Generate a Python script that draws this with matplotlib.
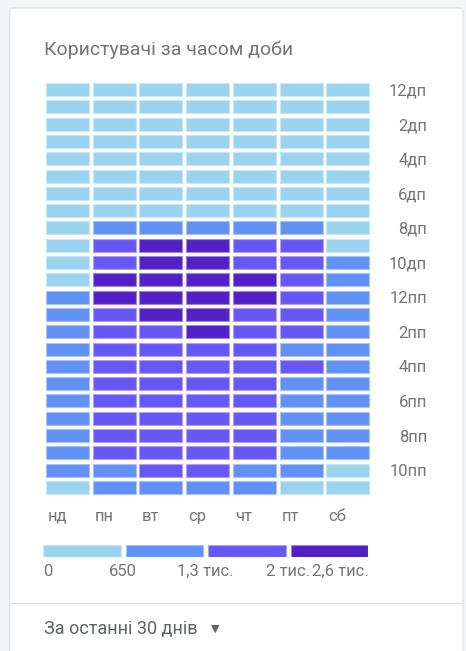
import matplotlib
matplotlib.use("Agg")
import matplotlib.pyplot as plt
from matplotlib.patches import Rectangle, FancyBboxPatch
from matplotlib.colors import ListedColormap, BoundaryNorm, to_rgb
import numpy as np

# ---------------- data ----------------
title = "Користувачі за часом доби"
days = ["нд", "пн", "вт", "ср", "чт", "пт", "сб"]
hour_labels = ["12дп", "2дп", "4дп", "6дп", "8дп", "10дп",
               "12пп", "2пп", "4пп", "6пп", "8пп", "10пп"]
bounds = [0, 650, 1300, 2000, 2600]
legend_labels = ["0", "650", "1,3 тис.", "2 тис.", "2,6 тис."]
level_colors = ["#9BD3EF", "#6291F5", "#6757F5", "#5021C4"]
footer = "За останні 30 днів"

# users per hour (rows 0..23), one list per day
sun = [120, 80, 60, 40, 30, 40, 90, 250, 480, 560, 610, 640, 700, 760, 780, 800, 820, 840, 860, 880, 840, 760, 680, 520]
mon = [150, 90, 60, 40, 40, 60, 150, 400, 900, 1750, 1950, 2150, 2100, 1900, 1800, 1700, 1650, 1600, 1550, 1500, 1450, 1400, 1200, 900]
tue = [200, 100, 70, 50, 40, 60, 160, 420, 950, 2150, 2300, 2400, 2350, 2200, 1950, 1800, 1700, 1650, 1600, 1550, 1500, 1450, 1350, 1000]
wed = [220, 110, 70, 50, 40, 60, 170, 430, 980, 2200, 2350, 2450, 2500, 2300, 2100, 1900, 1750, 1700, 1650, 1600, 1550, 1500, 1400, 1050]
thu = [210, 100, 70, 50, 40, 60, 160, 420, 940, 1900, 1950, 2100, 2050, 1950, 1850, 1700, 1650, 1600, 1550, 1500, 1450, 1400, 1250, 950]
fri = [200, 110, 70, 50, 40, 60, 150, 400, 900, 1700, 1750, 1800, 1750, 1650, 1500, 1250, 1350, 1250, 1200, 1150, 1100, 1000, 900, 600]
sat = [150, 100, 70, 50, 40, 50, 100, 250, 450, 600, 700, 800, 900, 950, 1000, 1050, 1050, 1000, 950, 900, 850, 800, 620, 500]
series = [sun, mon, tue, wed, thu, fri, sat]

# ---------------- figure ----------------
W, H = 466, 651
fig = plt.figure(figsize=(W / 100, H / 100), dpi=100)
fig.patch.set_facecolor("#F4F5F6")
plt.rcParams["font.family"] = ["Roboto", "DejaVu Sans"]

def fx(px):
    return px / W

def fy(py):
    return 1 - py / H

# card
card = FancyBboxPatch((fx(9.5), fy(660)), fx(463 - 9.5), (660 - 8) / H,
                      boxstyle="round,pad=0,rounding_size=0.006",
                      transform=fig.transFigure, facecolor="white",
                      edgecolor="#E3E4E6", linewidth=1.0, zorder=-10)
fig.patches.append(card)
fig.add_artist(plt.Line2D([fx(10), fx(462.5)], [fy(603), fy(603)],
                          transform=fig.transFigure, color="#E0E0E0", lw=1.0,
                          zorder=-5))

fig.text(fx(44), fy(50), title, fontsize=14, color="#757575",
         ha="left", va="center")

cmap = ListedColormap(level_colors)
norm = BoundaryNorm(bounds, cmap.N)

def lighten(c, a=0.45):
    r = np.array(to_rgb(c))
    return tuple(r + (1 - r) * a)

# heatmap axes
left, right = 46, 46 + 7 * 46.7
top, bottom = 83, 83 + 24 * 17.3
ax = fig.add_axes([fx(left), fy(bottom), fx(right - left), (bottom - top) / H])
ax.set_zorder(1)
ax.set_xlim(0, 7)
ax.set_ylim(24, 0)
cw, ch = 43 / 46.7, 13 / 17.3
for c, vals in enumerate(series):
    for r, v in enumerate(vals):
        col = cmap(norm(v))
        ax.add_patch(Rectangle((c, r), cw, ch, facecolor=col,
                               edgecolor=lighten(col), linewidth=0.8))
for s in ax.spines.values():
    s.set_visible(False)
ax.set_facecolor("none")
ax.set_xticks([c + 0.04 for c in range(7)])
ax.set_xticklabels(days, ha="left")
ax.yaxis.tick_right()
ax.set_yticks([2 * i + ch / 2 for i in range(12)])
ax.set_yticklabels(hour_labels, ha="right")
ax.tick_params(axis="both", length=0, labelsize=12, labelcolor="#757575")
ax.tick_params(axis="y", pad=(427 - right) * 0.72)
ax.tick_params(axis="x", pad=7.5)

# legend axes
lax = fig.add_axes([fx(43.3), fy(557.3), fx(368.3 - 43.3), 12.3 / H])
lax.set_zorder(1)
lax.set_xlim(0.03, 3.97)
lax.set_ylim(0, 1)
lax.bar([i + 0.5 for i in range(4)], [1] * 4, width=0.94, color=level_colors,
        edgecolor=[lighten(c) for c in level_colors], linewidth=0.8)
lax.axis("off")
for i, lab in enumerate(legend_labels):
    xpos = min(max(i, 0.03), 3.97)
    ha = "left" if i == 0 else ("right" if i == 4 else "center")
    lax.text(xpos, -1.15, lab, ha=ha, va="center", fontsize=12,
             color="#757575", transform=lax.transData)

fig.text(fx(44), fy(629), footer, fontsize=13, color="#5F6368",
         ha="left", va="center")
fig.text(fx(211), fy(628.5), "▼", fontsize=8, color="#5F6368",
         ha="left", va="center", family=["DejaVu Sans"])

fig.savefig("out.png", dpi=100, facecolor=fig.get_facecolor())
